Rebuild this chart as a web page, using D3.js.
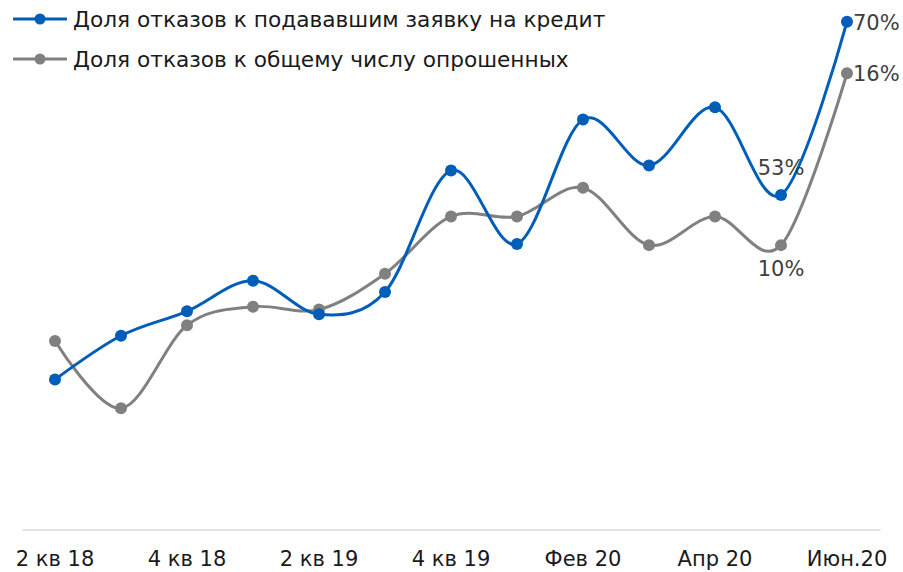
<!DOCTYPE html>
<html><head><meta charset="utf-8">
<script src="https://cdn.jsdelivr.net/npm/d3@7"></script>
<style>body{margin:0;background:#fff}svg{display:block}</style>
</head><body>
<svg id="c" width="903" height="572"></svg>
<script>
const categories = ["2 кв 18","3 кв 18","4 кв 18","1 кв 19","2 кв 19","3 кв 19","4 кв 19","Янв 20","Фев 20","Мар 20","Апр 20","Май 20","Июн.20"];
const tickLabels = ["2 кв 18","4 кв 18","2 кв 19","4 кв 19","Фев 20","Апр 20","Июн.20"];
const seriesNames = ["Доля отказов к подававшим заявку на кредит","Доля отказов к общему числу опрошенных"];
const applicants = [34.9,39.2,41.6,44.6,41.3,43.5,55.4,48.2,60.4,55.9,61.6,53,70];
const surveyed = [6.65,4.3,7.2,7.85,7.75,9.0,11.0,11.0,12.0,10.0,11.0,10,16];

const FONT = "'DejaVu Sans', sans-serif";
const svg = d3.select("#c");
const x = d3.scaleBand().domain(categories).range([22,880]);
const cx = d => x(d)+x.bandwidth()/2;
const yBlue = d3.scaleLinear().domain([20,70]).range([531.5,21.7]);
const yGray = d3.scaleLinear().domain([0,16]).range([531.5,73.3]);
const BLUE = "#005EB8", GRAY = "#808080";

// axis
const ax = svg.append("g").attr("transform","translate(0,529.5)")
  .call(d3.axisBottom(x).tickValues(tickLabels).tickSize(0).tickPadding(22));
ax.select(".domain").attr("stroke","#d9d9d9").attr("stroke-width",1.5);
ax.selectAll("text").attr("font-family",FONT).attr("font-size",21).attr("fill","#1a1a1a");

function drawSeries(vals, y, color){
  const line = d3.line().x((d,i)=>cx(categories[i])).y(d=>y(d)).curve(d3.curveCardinal.tension(0));
  svg.append("path").datum(vals).attr("d",line).attr("fill","none").attr("stroke",color).attr("stroke-width",3);
  svg.selectAll(null).data(vals).enter().append("circle")
    .attr("cx",(d,i)=>cx(categories[i])).attr("cy",d=>y(d)).attr("r",6).attr("fill",color);
}
drawSeries(surveyed, yGray, GRAY);
drawSeries(applicants, yBlue, BLUE);

// data labels
const lab = (t,xx,yy,anchor)=>svg.append("text").text(t).attr("x",xx).attr("y",yy)
  .attr("text-anchor",anchor).attr("font-family",FONT).attr("font-size",21).attr("fill","#404040");
const iM = categories.indexOf("Май 20"), iJ = categories.indexOf("Июн.20");
lab(Math.round(applicants[iM])+"%", cx(categories[iM]), yBlue(applicants[iM])-20, "middle");
lab(Math.round(surveyed[iM])+"%", cx(categories[iM]), yGray(surveyed[iM])+31, "middle");
lab(Math.round(applicants[iJ])+"%", cx(categories[iJ])+6, yBlue(applicants[iJ])+8, "start");
lab(Math.round(surveyed[iJ])+"%", cx(categories[iJ])+6, yGray(surveyed[iJ])+8, "start");

// legend
const lg = svg.append("g");
[[seriesNames[0],BLUE,19],[seriesNames[1],GRAY,59]].forEach(([name,col,yy])=>{
  lg.append("line").attr("x1",13).attr("x2",67).attr("y1",yy).attr("y2",yy).attr("stroke",col).attr("stroke-width",3);
  lg.append("circle").attr("cx",40).attr("cy",yy).attr("r",5.5).attr("fill",col);
  lg.append("text").text(name).attr("x",73).attr("y",yy+8).attr("font-family",FONT).attr("font-size",21.7).attr("fill","#1a1a1a");
});
</script>
</body></html>
